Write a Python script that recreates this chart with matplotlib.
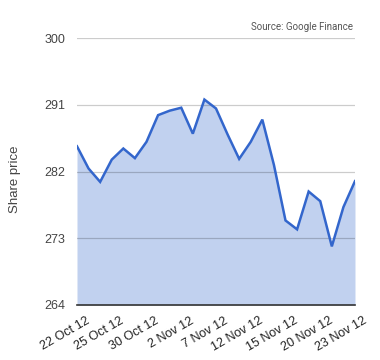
import matplotlib.pyplot as plt
import matplotlib.transforms as mtransforms
import numpy as np

plt.rcParams['font.family'] = ['Liberation Sans', 'DejaVu Sans']

# Share price, one point per trading day
prices = [285.4, 282.4, 280.6, 283.6, 285.1, 283.8, 286.0, 289.6, 290.2, 290.6,
          287.1, 291.7, 290.5, 287.0, 283.7, 286.0, 289.0, 282.9, 275.4, 274.2,
          279.3, 278.0, 271.9, 277.2, 280.7]
tick_labels = ['22 Oct 12', '25 Oct 12', '30 Oct 12', '2 Nov 12', '7 Nov 12',
               '12 Nov 12', '15 Nov 12', '20 Nov 12', '23 Nov 12']
y_ticks = [264, 273, 282, 291, 300]

x = np.arange(len(prices))

fig = plt.figure(figsize=(3.8, 3.6), dpi=100)
ax = fig.add_axes([0.2026, 0.1528, 0.7316, 0.7416])

ax.fill_between(x, prices, 264, color='#c1d1ef', lw=0, zorder=1)
for yt in y_ticks[1:]:
    ax.axhline(yt, color='black', alpha=0.2, lw=0.9, zorder=2)
ax.plot(x, prices, color='#3366cc', lw=1.8, zorder=3, solid_joinstyle='miter')

ax.set_xlim(0, len(prices) - 1)
ax.set_ylim(264, 300)
ax.set_yticks(y_ticks)
ax.set_yticklabels([str(v) for v in y_ticks], fontsize=9, color='#444444')
ax.set_xticks(x[::3])
ax.set_xticklabels(tick_labels, rotation=30, ha='right', rotation_mode='anchor',
                   fontsize=9, color='#222222')
ax.tick_params(length=0, pad=8.5, axis='y')
ax.tick_params(length=0, pad=7, axis='x')

# nudge date labels to the right like the original
offset = mtransforms.ScaledTranslation(6 / 72, 0, fig.dpi_scale_trans)
for lbl in ax.get_xticklabels():
    lbl.set_transform(lbl.get_transform() + offset)

for s in ['top', 'right', 'left']:
    ax.spines[s].set_visible(False)
ax.spines['bottom'].set_color('#333333')
ax.spines['bottom'].set_linewidth(1.2)
ax.spines['bottom'].set_zorder(4)

ax.set_ylabel('Share price', fontsize=9.5, color='#444444')
ax.yaxis.set_label_coords(-0.201, 0.472)
fig.text(0.929, 0.91, 'Source: Google Finance', fontsize=7, color='#555555',
         ha='right', va='bottom', family=['Roboto', 'DejaVu Sans'])

plt.savefig('out.png', dpi=100)
